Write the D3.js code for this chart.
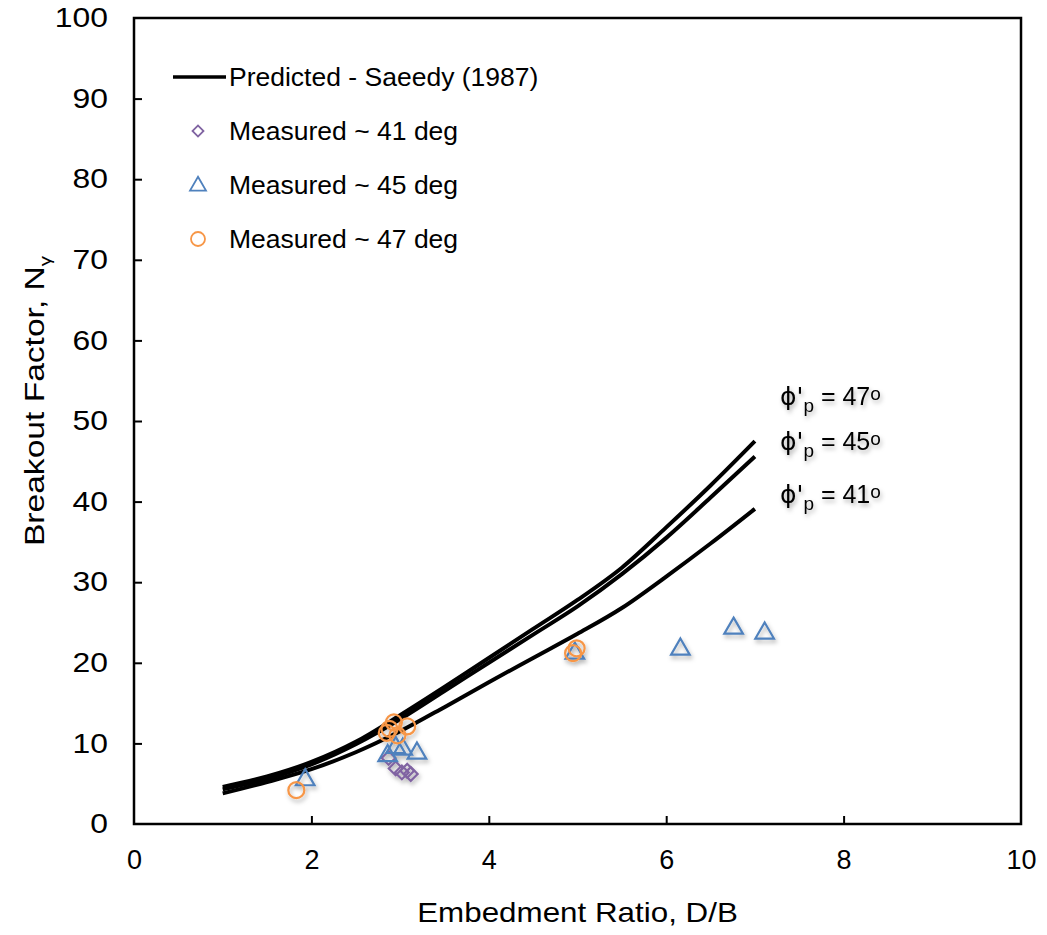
<!DOCTYPE html>
<html>
<head>
<meta charset="utf-8">
<script src="https://cdn.jsdelivr.net/npm/d3@7"></script>
<style>
  body { margin: 0; background: #fff; }
  text { font-family: "Liberation Sans", Arial, sans-serif; fill: #000; }
</style>
</head>
<body>
<div id="chart"></div>
<script>

// predicted curves, Saeedy (1987)
var predX = [1, 1.5, 2, 2.5, 3, 3.5, 4, 4.5, 5, 5.5, 6, 6.5, 7];
var pred47 = [4.6, 5.9, 7.7, 10.2, 13.5, 17.0, 20.6, 24.2, 27.8, 31.8, 36.8, 42.0, 47.5];
var pred45 = [4.3, 5.6, 7.4, 9.9, 13.0, 16.5, 20.0, 23.5, 27.0, 31.0, 35.5, 40.5, 45.6];
var pred41 = [3.8, 5.2, 6.8, 8.9, 11.5, 14.5, 17.6, 20.6, 23.6, 26.8, 30.7, 34.8, 39.1];
var predLabels = ["47", "45", "41"];

// measured points
var m41x = [2.87, 2.95, 3.02, 3.08, 3.12];
var m41y = [8.2, 6.9, 6.4, 6.6, 6.2];
var m45x = [1.93, 2.86, 2.95, 3.03, 3.19, 4.97, 6.16, 6.76, 7.11];
var m45y = [5.6, 8.6, 9.6, 9.4, 8.9, 21.3, 21.8, 24.4, 23.8];
var m47x = [1.83, 2.85, 2.88, 2.93, 2.97, 3.08, 4.95, 4.99];
var m47y = [4.2, 11.3, 11.8, 12.6, 11.0, 12.1, 21.2, 21.8];

var xTicks = [0, 2, 4, 6, 8, 10];
var yTicks = [0, 10, 20, 30, 40, 50, 60, 70, 80, 90, 100];

var W = 1047, H = 935;
var margin = {left: 134, right: 26, top: 18, bottom: 111};
var innerW = W - margin.left - margin.right;
var innerH = H - margin.top - margin.bottom;

var purple = "#8064A2", blue = "#4F81BD", orange = "#F79646";

var svg = d3.select("#chart").append("svg")
    .attr("width", W).attr("height", H);

var defs = svg.append("defs");
var f = defs.append("filter").attr("id", "shadow")
    .attr("x", "-50%").attr("y", "-50%").attr("width", "200%").attr("height", "200%");
f.append("feDropShadow").attr("dx", 1.5).attr("dy", 3).attr("stdDeviation", 2)
    .attr("flood-color", "#000").attr("flood-opacity", 0.3);

var g = svg.append("g").attr("transform", `translate(${margin.left},${margin.top})`);

var x = d3.scaleLinear().domain([0, 10]).range([0, innerW]);
var y = d3.scaleLinear().domain([0, 100]).range([innerH, 0]);

/* frame */
g.append("rect")
    .attr("width", innerW).attr("height", innerH)
    .attr("fill", "none").attr("stroke", "#000").attr("stroke-width", 2.5);

/* axes, ticks inside */
var xAxis = d3.axisBottom(x).tickValues(xTicks).tickSize(-8).tickPadding(26).tickFormat(d3.format("d"));
var yAxis = d3.axisLeft(y).tickValues(yTicks).tickSize(-8).tickPadding(26).tickFormat(d3.format("d"));

var xg = g.append("g").attr("transform", `translate(0,${innerH})`).call(xAxis);
var yg = g.append("g").call(yAxis);
[xg, yg].forEach(a => {
    a.select(".domain").remove();
    a.selectAll(".tick line").attr("stroke", "#000").attr("stroke-width", 2);
    a.selectAll(".tick text").style("font-size", "27px").attr("fill", "#000");
});
// y labels a little wider, as in the original
yg.selectAll(".tick text").attr("x", -26 / 1.18).attr("transform", "scale(1.18,1)");
xg.selectAll(".tick line").filter(d => d == 0 || d == 10).remove();
yg.selectAll(".tick line").filter(d => d == 0 || d == 100).remove();

/* axis titles */
svg.append("text")
    .attr("transform", `translate(${margin.left + innerW / 2},922) scale(1.12,1)`)
    .attr("text-anchor", "middle")
    .style("font-size", "28px")
    .text("Embedment Ratio, D/B");

var yt = svg.append("text")
    .attr("transform", `translate(44,${margin.top + innerH / 2 - 20}) rotate(-90) scale(1.2,1)`)
    .attr("text-anchor", "middle")
    .style("font-size", "28px");
yt.append("tspan").text("Breakout Factor, N");
yt.append("tspan").attr("dy", 7).style("font-size", "17px").text("γ");

/* predicted lines */
var line = d3.line()
    .x((d, i) => x(predX[i]))
    .y(d => y(d))
    .curve(d3.curveMonotoneX);

var preds = [pred47, pred45, pred41];
g.selectAll(".pred").data(preds).enter()
    .append("path")
    .attr("class", "pred")
    .attr("d", d => line(d))
    .attr("fill", "none")
    .attr("stroke", "#000")
    .attr("stroke-width", 4);

/* labels at line ends */
var labY = [396, 441, 494];
predLabels.forEach((lab, i) => {
    var t = svg.append("text")
        .attr("x", 780).attr("y", labY[i] + 9)
        .attr("filter", "url(#shadow)")
        .style("font-size", "25px");
    t.append("tspan").style("font-family", "'DejaVu Sans'").text("ϕ'");
    t.append("tspan").attr("dy", 7).style("font-size", "19px").text("p");
    t.append("tspan").attr("dy", -7).text(" = " + lab);
    t.append("tspan").attr("dy", -5).style("font-size", "19px").text("o");
});

/* markers */
var diamond = d3.symbol().type(d3.symbolSquare).size(95);
var tri = d3.symbol().type(d3.symbolTriangle).size(150);

var mk = g.append("g").attr("filter", "url(#shadow)");

mk.selectAll(".d41").data(m41x).enter()
    .append("path")
    .attr("d", diamond())
    .attr("transform", (d, i) => `translate(${x(d)},${y(m41y[i])}) rotate(45)`)
    .attr("fill", "none").attr("stroke", purple).attr("stroke-width", 2.2);

mk.selectAll(".t45").data(m45x).enter()
    .append("path")
    .attr("d", tri())
    .attr("transform", (d, i) => `translate(${x(d)},${y(m45y[i]) + 1})`)
    .attr("fill", "none").attr("stroke", blue).attr("stroke-width", 2.2);

mk.selectAll(".c47").data(m47x).enter()
    .append("circle")
    .attr("cx", d => x(d)).attr("cy", (d, i) => y(m47y[i]))
    .attr("r", 8)
    .attr("fill", "none").attr("stroke", orange).attr("stroke-width", 2.2);

/* legend */
var lg = svg.append("g");
lg.append("line")
    .attr("x1", 173).attr("x2", 226).attr("y1", 77).attr("y2", 77)
    .attr("stroke", "#000").attr("stroke-width", 3.5);
lg.append("path").attr("d", d3.symbol().type(d3.symbolSquare).size(60)())
    .attr("transform", "translate(198,131) rotate(45)")
    .attr("fill", "none").attr("stroke", purple).attr("stroke-width", 1.8);
lg.append("path").attr("d", d3.symbol().type(d3.symbolTriangle).size(110)())
    .attr("transform", "translate(198,186)")
    .attr("fill", "none").attr("stroke", blue).attr("stroke-width", 1.8);
lg.append("circle").attr("cx", 198).attr("cy", 239).attr("r", 7)
    .attr("fill", "none").attr("stroke", orange).attr("stroke-width", 1.8);

var legendText = ["Predicted - Saeedy (1987)", "Measured ~ 41 deg", "Measured ~ 45 deg", "Measured ~ 47 deg"];
lg.selectAll(".lt").data(legendText).enter()
    .append("text")
    .attr("x", 229)
    .attr("y", (d, i) => 86 + i * 54)
    .style("font-size", "26.5px")
    .text(d => d);

</script>
</body>
</html>
